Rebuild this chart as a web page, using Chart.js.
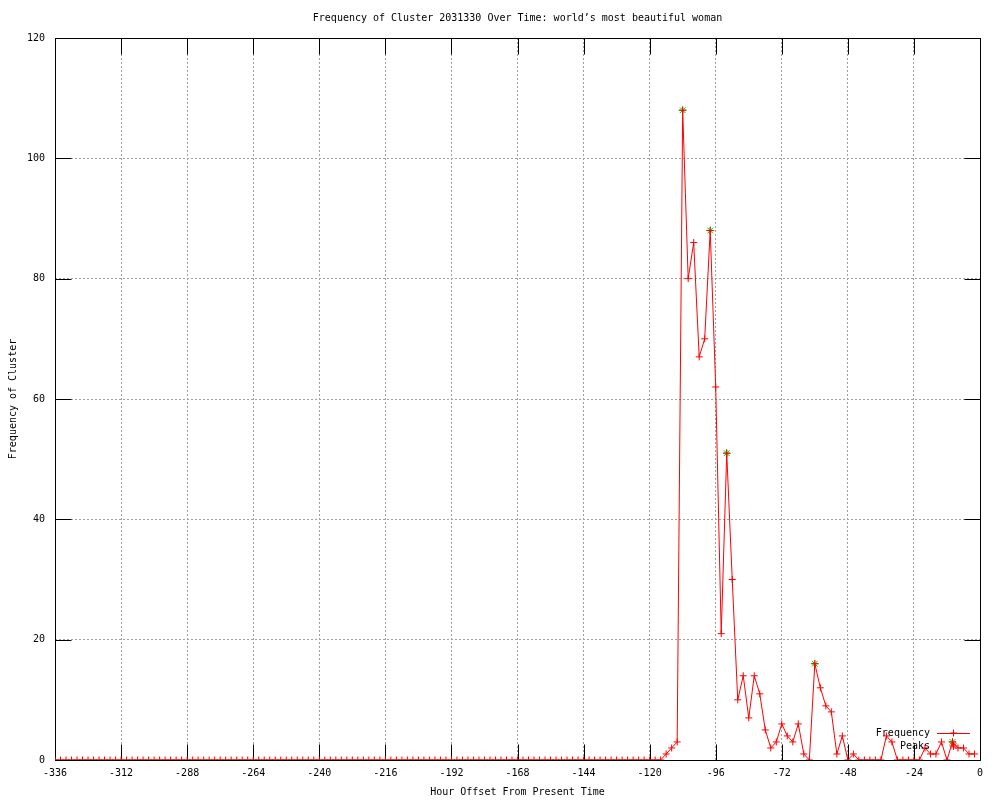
<!DOCTYPE html>
<html>
<head>
<meta charset="utf-8">
<title>Frequency of Cluster 2031330 Over Time</title>
<script src="https://cdn.jsdelivr.net/npm/chart.js@4/dist/chart.umd.min.js"></script>
<style>
  html, body { margin: 0; padding: 0; background: #fff; }
</style>
</head>
<body>
<canvas id="chart" width="1000" height="800"></canvas>
<script>
// hour offsets, one point every 2 hours
const hours = [
  -336, -334, -332, -330, -328, -326, -324, -322, -320, -318, -316, -314,
  -312, -310, -308, -306, -304, -302, -300, -298, -296, -294, -292, -290,
  -288, -286, -284, -282, -280, -278, -276, -274, -272, -270, -268, -266,
  -264, -262, -260, -258, -256, -254, -252, -250, -248, -246, -244, -242,
  -240, -238, -236, -234, -232, -230, -228, -226, -224, -222, -220, -218,
  -216, -214, -212, -210, -208, -206, -204, -202, -200, -198, -196, -194,
  -192, -190, -188, -186, -184, -182, -180, -178, -176, -174, -172, -170,
  -168, -166, -164, -162, -160, -158, -156, -154, -152, -150, -148, -146,
  -144, -142, -140, -138, -136, -134, -132, -130, -128, -126, -124, -122,
  -120, -118, -116, -114, -112, -110, -108, -106, -104, -102, -100, -98,
  -96, -94, -92, -90, -88, -86, -84, -82, -80, -78, -76, -74,
  -72, -70, -68, -66, -64, -62, -60, -58, -56, -54, -52, -50,
  -48, -46, -44, -42, -40, -38, -36, -34, -32, -30, -28, -26,
  -24, -22, -20, -18, -16, -14, -12, -10, -8, -6, -4, -2
];

const freq = [
  0, 0, 0, 0, 0, 0, 0, 0, 0, 0, 0, 0,
  0, 0, 0, 0, 0, 0, 0, 0, 0, 0, 0, 0,
  0, 0, 0, 0, 0, 0, 0, 0, 0, 0, 0, 0,
  0, 0, 0, 0, 0, 0, 0, 0, 0, 0, 0, 0,
  0, 0, 0, 0, 0, 0, 0, 0, 0, 0, 0, 0,
  0, 0, 0, 0, 0, 0, 0, 0, 0, 0, 0, 0,
  0, 0, 0, 0, 0, 0, 0, 0, 0, 0, 0, 0,
  0, 0, 0, 0, 0, 0, 0, 0, 0, 0, 0, 0,
  0, 0, 0, 0, 0, 0, 0, 0, 0, 0, 0, 0,
  0, 0, 0, 1, 2, 3, 108, 80, 86, 67, 70, 88,
  62, 21, 51, 30, 10, 14, 7, 14, 11, 5, 2, 3,
  6, 4, 3, 6, 1, 0, 16, 12, 9, 8, 1, 4,
  0, 1, 0, 0, 0, 0, 0, 4, 3, 0, 0, 0,
  0, 0, 2, 1, 1, 3, 0, 3, 2, 2, 1, 1
];

const peakHours = [-108, -98, -92, -60, -10];
const peakValues = [108, 88, 51, 16, 3];

const xTicks = [-336, -312, -288, -264, -240, -216, -192, -168, -144, -120, -96, -72, -48, -24, 0];
const yTicks = [0, 20, 40, 60, 80, 100, 120];

const FONT = "'DejaVu Sans Mono', monospace";
const RED = "#ff0000";
const GREEN = "#00c000";
const TICK = 16;

Chart.defaults.color = "#000";
Chart.defaults.font.family = FONT;
Chart.defaults.font.size = 10;

// gnuplot style box with inward ticks on all four sides
const framePlugin = {
  id: "frame",
  beforeDatasetsDraw(chart) {
    const { ctx, chartArea: a, scales } = chart;
    const l = Math.round(a.left) + 0.5, r = Math.round(a.right) + 0.5;
    const t = Math.round(a.top) + 0.5, b = Math.round(a.bottom) + 0.5;
    ctx.save();
    ctx.strokeStyle = "#000";
    ctx.lineWidth = 1;
    ctx.setLineDash([]);
    ctx.beginPath();
    xTicks.forEach(v => {
      const px = Math.round(scales.x.getPixelForValue(v)) + 0.5;
      ctx.moveTo(px, b); ctx.lineTo(px, b - TICK);
      ctx.moveTo(px, t); ctx.lineTo(px, t + TICK);
    });
    yTicks.forEach(v => {
      const py = Math.round(scales.y.getPixelForValue(v)) + 0.5;
      ctx.moveTo(l, py); ctx.lineTo(l + TICK, py);
      ctx.moveTo(r, py); ctx.lineTo(r - TICK, py);
    });
    ctx.rect(l, t, r - l, b - t);
    ctx.stroke();
    ctx.restore();
  }
};

// key in the lower right corner, text right-aligned before the sample
const keyPlugin = {
  id: "key",
  afterDatasetsDraw(chart) {
    const { ctx, chartArea: a } = chart;
    const ds = chart.data.datasets;
    const textX = a.right - 50;
    const x1 = a.right - 43, x2 = a.right - 10, mx = (x1 + x2) / 2;
    ctx.save();
    ctx.font = "10px " + FONT;
    ctx.textAlign = "right";
    ctx.textBaseline = "middle";
    ctx.fillStyle = "#000";
    ds.forEach((d, i) => {
      const y = a.bottom - 27 + i * 13;
      ctx.fillText(d.label, textX, y);
      if (d.showLine !== false) {
        ctx.strokeStyle = d.borderColor;
        ctx.lineWidth = 1;
        ctx.beginPath();
        ctx.moveTo(x1, y + 0.5);
        ctx.lineTo(x2, y + 0.5);
        ctx.stroke();
      }
      Chart.helpers.drawPoint(ctx, {
        pointStyle: d.pointStyle,
        radius: d.pointRadius,
        borderWidth: 1,
        rotation: 0
      }, mx, y);
    });
    ctx.restore();
  }
};

new Chart(document.getElementById("chart"), {
  type: "scatter",
  data: {
    datasets: [
      {
        label: "Frequency",
        data: hours.map((h, i) => ({ x: h, y: freq[i] })),
        showLine: true,
        borderColor: RED,
        backgroundColor: RED,
        borderWidth: 1,
        tension: 0,
        pointStyle: "cross",
        pointRadius: 3.5,
        pointBorderColor: RED,
        pointBorderWidth: 1
      },
      {
        label: "Peaks",
        data: peakHours.map((h, i) => ({ x: h, y: peakValues[i] })),
        showLine: false,
        borderColor: GREEN,
        backgroundColor: GREEN,
        pointStyle: "star",
        pointRadius: 4,
        pointBorderColor: GREEN,
        pointBorderWidth: 1
      }
    ]
  },
  options: {
    responsive: false,
    animation: false,
    events: [],
    layout: { padding: { left: 0, right: 20, top: 0, bottom: 0 } },
    plugins: {
      legend: { display: false },
      tooltip: { enabled: false },
      title: {
        display: true,
        fullSize: false,
        text: "Frequency of Cluster 2031330 Over Time: world\u2019s most beautiful woman",
        font: { family: FONT, size: 10, weight: "normal" },
        color: "#000",
        padding: { top: 12, bottom: 14 }
      }
    },
    scales: {
      x: {
        type: "linear",
        min: -336,
        max: 0,
        afterBuildTicks: s => { s.ticks = xTicks.map(v => ({ value: v })); },
        afterFit: s => { s.height = 40; },
        ticks: { autoSkip: false, maxRotation: 0, padding: 7, font: { family: FONT, size: 10 }, color: "#000" },
        grid: { drawTicks: false, color: "#a0a0a0", lineWidth: 1 },
        border: { display: false, dash: [2, 2] },
        title: {
          display: true,
          text: "Hour Offset From Present Time",
          font: { family: FONT, size: 10 },
          color: "#000",
          padding: { top: 4, bottom: 2 }
        }
      },
      y: {
        type: "linear",
        min: 0,
        max: 120,
        afterBuildTicks: s => { s.ticks = yTicks.map(v => ({ value: v })); },
        afterFit: s => { s.width = 55; },
        ticks: { padding: 10, font: { family: FONT, size: 10 }, color: "#000" },
        grid: { drawTicks: false, color: "#a0a0a0", lineWidth: 1 },
        border: { display: false, dash: [2, 2] },
        title: {
          display: true,
          text: "Frequency of Cluster",
          font: { family: FONT, size: 10 },
          color: "#000",
          padding: { top: 7, bottom: 2 }
        }
      }
    }
  },
  plugins: [framePlugin, keyPlugin]
});
</script>
</body>
</html>
